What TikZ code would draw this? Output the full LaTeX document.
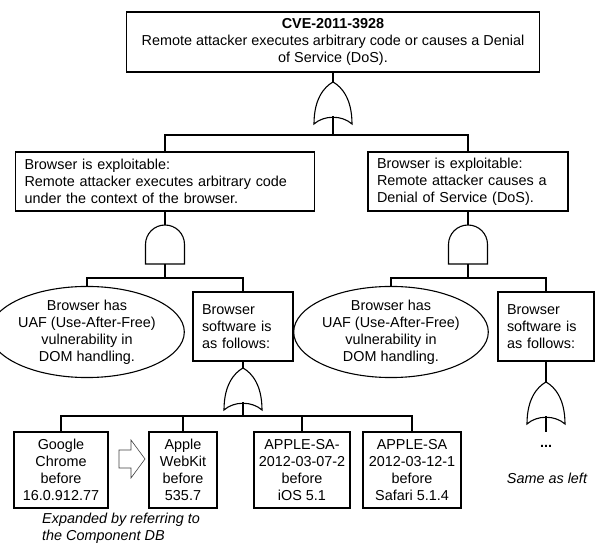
\documentclass[tikz,border=0pt]{standalone}
\usepackage{fontspec}
\setmainfont{Liberation Sans}
\usetikzlibrary{shapes.geometric}

\begin{document}
\begin{tikzpicture}[x=1pt, y=-1pt,
  txt/.style={font=\fontsize{14.4}{17}\selectfont, inner sep=0pt},
  box/.style={txt, draw, line width=1.1pt},
  lbox/.style={box, align=left, inner xsep=9pt},
  cbox/.style={box, align=center, minimum height=76pt},
  evt/.style={box, ellipse, align=center, minimum width=166pt, minimum height=80pt},
  wire/.style={line width=1.1pt},
  orgate/.pic={
    \draw[wire] (0,0) .. controls (9,5) and (19,17) .. (19,42)
      .. controls (9,33) and (-9,33) .. (-19,42)
      .. controls (-19,17) and (-9,5) .. (0,0) -- cycle;
    \coordinate (-in) at (0,0);
    \coordinate (-out) at (0,34.5);
  },
  andgate/.pic={
    \draw[wire] (-19.5,39) -- (-19.5,19.5)
      .. controls (-19.5,8.7) and (-10.8,0) .. (0,0)
      .. controls (10.8,0) and (19.5,8.7) .. (19.5,19.5)
      -- (19.5,39) -- cycle;
    \coordinate (-in) at (0,0);
    \coordinate (-out) at (0,39);
  }]
\useasboundingbox (0,0) rectangle (595,545);
% top event
\node[box, align=center, minimum width=413pt, minimum height=60pt] (top) at (333,42)
  {\textbf{CVE-2011-3928}\\Remote attacker executes arbitrary code or causes a Denial\\of Service (DoS).};
\pic (g0) at (333,82) {orgate};
\draw[wire] (top.south) -- (g0-in);
% second level
\node[lbox, text width=281pt, minimum height=59pt] (exec) at (165,181.5)
  {Browser is exploitable:\\Remote attacker executes arbitrary code\\under the context of the browser.};
\node[lbox, text width=182pt, minimum height=59pt] (dos) at (468,181.5)
  {Browser is exploitable:\\Remote attacker causes a\\Denial of Service (DoS).};
\coordinate (b0) at (333,135);
\draw[wire] (g0-out) -- (b0) -| (exec.north);
\draw[wire] (b0) -| (dos.north);
% left branch
\pic (g1) at (165,225) {andgate};
\draw[wire] (exec.south) -- (g1-in);
\node[evt] (uaf1) at (87,332) {Browser has\\UAF (Use-After-Free)\\vulnerability in\\DOM handling.};
\node[lbox, text width=82pt, minimum height=69pt] (sw1) at (243,326.5) {Browser\\software is\\as follows:};
\coordinate (b1) at (165,278);
\draw[wire] (g1-out) -- (b1) -| (uaf1.north);
\draw[wire] (b1) -| (sw1.north);
% right branch
\pic (g2) at (468,225) {andgate};
\draw[wire] (dos.south) -- (g2-in);
\node[evt] (uaf2) at (391,332) {Browser has\\UAF (Use-After-Free)\\vulnerability in\\DOM handling.};
\node[lbox, text width=78pt, minimum height=69pt] (sw2) at (546,326.5) {Browser\\software is\\as follows:};
\coordinate (b2) at (468,278);
\draw[wire] (g2-out) -- (b2) -| (uaf2.north);
\draw[wire] (b2) -| (sw2.north);
% software list
\pic (g3) at (243,368) {orgate};
\draw[wire] (sw1.south) -- (g3-in);
\node[cbox, minimum width=94pt] (c1) at (61,470) {Google\\Chrome\\before\\16.0.912.77};
\node[cbox, minimum width=68pt] (c2) at (183,470) {Apple\\WebKit\\before\\535.7};
\node[cbox, minimum width=96pt] (c3) at (302,470) {APPLE-SA-\\2012-03-07-2\\before\\iOS 5.1};
\node[cbox, minimum width=98pt] (c4) at (412,470) {APPLE-SA\\2012-03-12-1\\before\\Safari 5.1.4};
\coordinate (b3) at (243,416);
\draw[wire] (g3-out) -- (b3) -| (c1.north);
\draw[wire] (b3) -| (c2.north);
\draw[wire] (b3) -| (c3.north);
\draw[wire] (b3) -| (c4.north);
% expansion arrow
\draw[line width=0.6pt, black!75] (119,450) -- (131,450) -- (131,440) -- (145,459)
  -- (131,478) -- (131,468) -- (119,468) -- cycle;
\node[txt, align=left, anchor=west] (note) at (42,528) {\itshape Expanded by referring to\\\itshape the Component DB};
% same as left
\pic (g4) at (546,382) {orgate};
\draw[wire] (sw2.south) -- (g4-in);
\coordinate (e4) at (546,432);
\draw[wire] (g4-out) -- (e4);
\node[txt] (dots) at (546,446) {\textbf{...}};
\node[txt] (same) at (547,478) {\itshape Same as left};
\end{tikzpicture}
\end{document}
